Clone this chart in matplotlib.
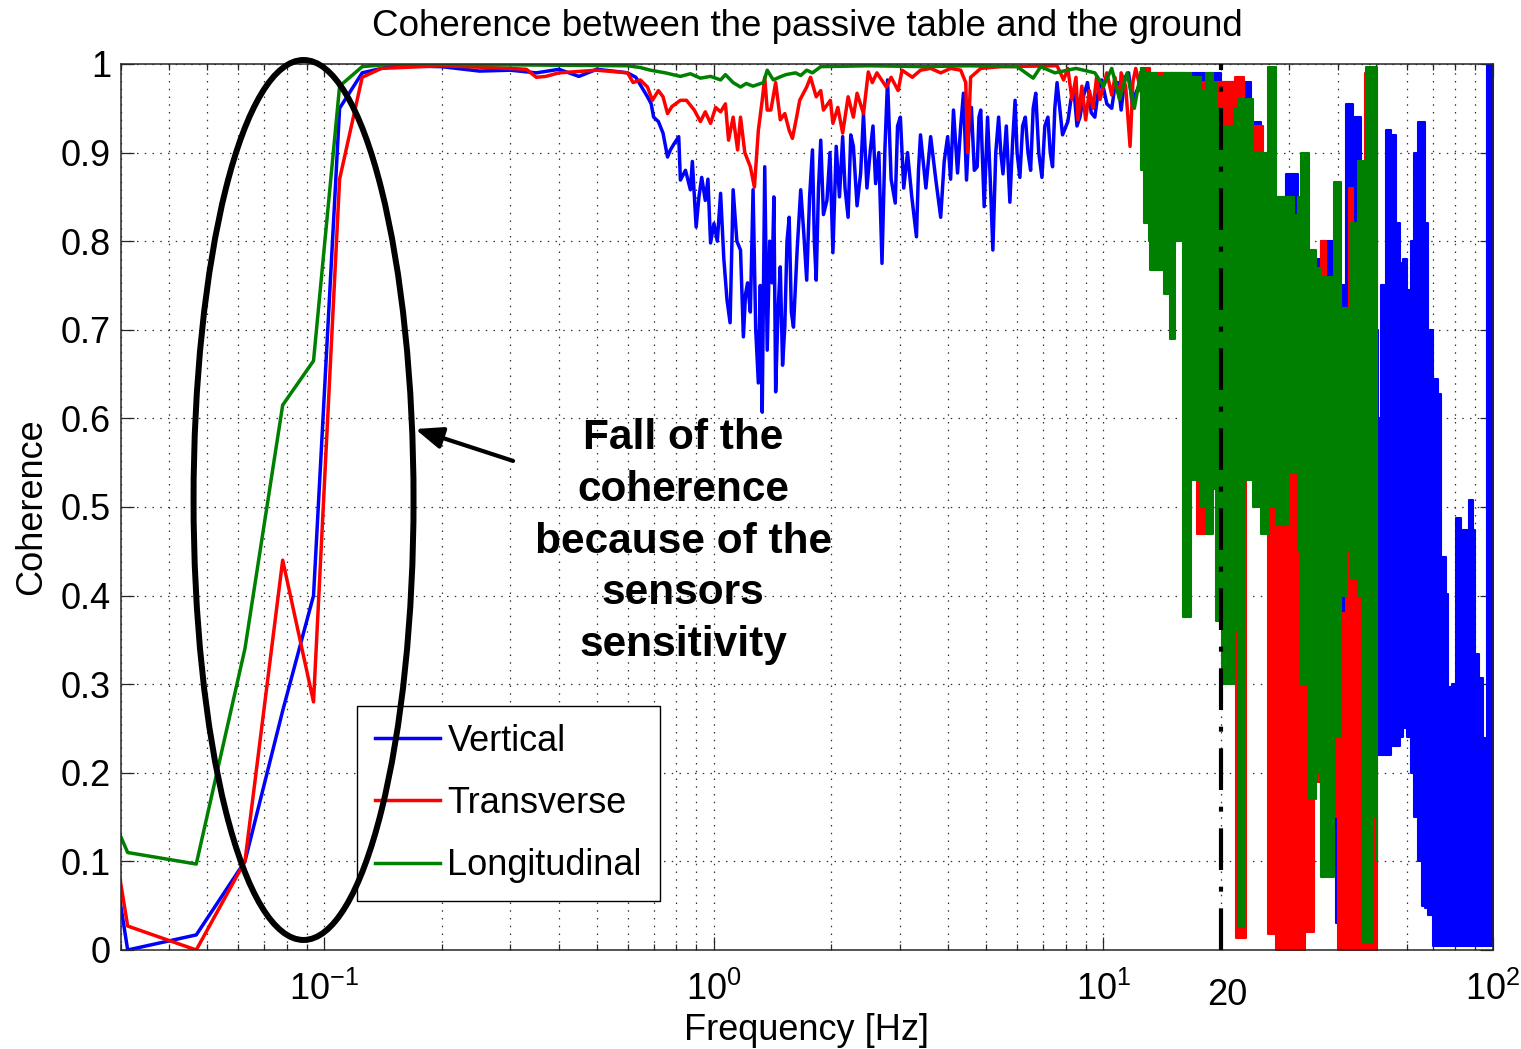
import numpy as np
import matplotlib
matplotlib.use("Agg")
import matplotlib.pyplot as plt
from matplotlib.patches import Ellipse
from matplotlib.ticker import LogLocator, NullFormatter, FixedLocator

plt.rcParams['font.family'] = ['Liberation Sans', 'DejaVu Sans']
plt.rcParams['mathtext.fontset'] = 'custom'
plt.rcParams['mathtext.rm'] = 'Liberation Sans'
plt.rcParams['mathtext.it'] = 'Liberation Sans:italic'
plt.rcParams['mathtext.bf'] = 'Liberation Sans:bold'

# ---------------------------------------------------------------- data
series_names = ['Vertical', 'Transverse', 'Longitudinal']

# Vertical: resolved part of the spectrum [Hz] and coherence
vert_freq = [0.015625, 0.03125, 0.046875, 0.0625, 0.078125, 0.09375, 0.109375, 0.125, 0.15, 0.2,
             0.25, 0.3, 0.35, 0.4, 0.45, 0.5, 0.55, 0.6, 0.63, 0.675,
             0.69, 0.70, 0.72, 0.74, 0.76, 0.773, 0.79, 0.812, 0.82, 0.845,
             0.87, 0.88, 0.90, 0.915, 0.93, 0.95, 0.965, 0.98, 1.0, 1.02,
             1.04, 1.06, 1.08, 1.10, 1.12, 1.145, 1.17, 1.19, 1.205, 1.22,
             1.24, 1.26, 1.28, 1.30, 1.315, 1.33, 1.35, 1.37, 1.39, 1.41,
             1.425, 1.44, 1.46, 1.48, 1.50, 1.52, 1.54, 1.56, 1.58, 1.60,
             1.635, 1.67, 1.70, 1.73, 1.76, 1.79, 1.81, 1.83, 1.855, 1.88,
             1.91, 1.95, 1.985, 2.02, 2.06, 2.10, 2.14, 2.17, 2.21, 2.245,
             2.28, 2.33, 2.38, 2.42, 2.47, 2.52, 2.56, 2.60, 2.65, 2.70,
             2.745, 2.79, 2.85, 2.92, 2.96, 3.01, 3.07, 3.14, 3.22, 3.31,
             3.35, 3.39, 3.50, 3.60, 3.71, 3.82, 3.90, 3.98, 4.05, 4.12,
             4.22, 4.30, 4.37, 4.45, 4.52, 4.58, 4.66, 4.74, 4.79, 4.84,
             4.94, 5.04, 5.12, 5.20, 5.29, 5.38, 5.45, 5.52, 5.63, 5.75,
             5.84, 5.93, 6.0, 6.1, 6.2, 6.3, 6.4, 6.5, 6.6, 6.7,
             6.82, 6.95, 7.07, 7.2, 7.3, 7.4, 7.5, 7.6, 7.85, 8.1,
             8.25, 8.4, 8.55, 8.7, 8.9, 9.1, 9.3, 9.5, 9.7, 9.9,
             10.2, 10.5, 10.7, 10.9, 11.1, 11.35, 11.6, 11.85, 12.1, 12.6]
vert_coh = [0.85, 0.0, 0.017, 0.10, 0.27, 0.40, 0.95, 0.99, 0.998, 0.997,
            0.992, 0.993, 0.99, 0.994, 0.986, 0.994, 0.992, 0.99, 0.985, 0.963,
            0.955, 0.94, 0.935, 0.922, 0.895, 0.903, 0.91, 0.918, 0.869, 0.88,
            0.858, 0.89, 0.816, 0.85, 0.872, 0.846, 0.87, 0.798, 0.82, 0.80,
            0.854, 0.78, 0.734, 0.708, 0.858, 0.80, 0.79, 0.692, 0.74, 0.753,
            0.72, 0.858, 0.70, 0.64, 0.75, 0.607, 0.884, 0.677, 0.80, 0.753,
            0.85, 0.63, 0.72, 0.771, 0.66, 0.703, 0.80, 0.827, 0.72, 0.703,
            0.79, 0.858, 0.81, 0.756, 0.85, 0.903, 0.80, 0.756, 0.86, 0.914,
            0.83, 0.846, 0.90, 0.787, 0.907, 0.85, 0.918, 0.86, 0.827, 0.92,
            0.907, 0.84, 0.877, 0.944, 0.86, 0.903, 0.93, 0.865, 0.90, 0.775,
            0.90, 0.982, 0.87, 0.843, 0.93, 0.94, 0.86, 0.90, 0.85, 0.805,
            0.88, 0.92, 0.86, 0.918, 0.87, 0.827, 0.89, 0.918, 0.87, 0.948,
            0.877, 0.93, 0.967, 0.869, 0.93, 0.951, 0.88, 0.884, 0.94, 0.948,
            0.839, 0.94, 0.87, 0.79, 0.90, 0.94, 0.90, 0.876, 0.93, 0.844,
            0.91, 0.959, 0.90, 0.872, 0.93, 0.94, 0.90, 0.88, 0.95, 0.967,
            0.90, 0.872, 0.93, 0.94, 0.90, 0.884, 0.95, 0.979, 0.92, 0.935,
            0.96, 0.97, 0.93, 0.94, 0.965, 0.979, 0.945, 0.94, 0.97, 0.982,
            0.955, 0.95, 0.975, 0.979, 0.948, 0.985, 0.99, 0.955, 0.967, 0.985]
# Vertical: dense high-frequency part, min / max envelope
vert_band_freq = [12.6, 14.0, 15.8, 17.8, 20.0, 21.9, 23.9, 25.3, 26.4, 29.4,
                  31.6, 33.2, 36.1, 39.5, 41.9, 43.7, 45.8, 48.5, 50.6, 51.5,
                  53.1, 54.6, 56.3, 57.6, 58.7, 60.0, 61.5, 62.6, 64.1, 65.6,
                  66.8, 67.9, 70.0, 72.1, 73.4, 75.7, 76.6, 78.3, 80.3, 82.7,
                  85.1, 86.6, 88.6, 89.7, 92.1, 94.2, 96.0, 96.7, 100.0]
vert_band_lo = [0.93, 0.92, 0.90, 0.88, 0.85, 0.80, 0.70, 0.65, 0.60, 0.55,
                0.45, 0.27, 0.17, 0.03, 0.05, 0.30, 0.30, 0.25, 0.22, 0.22,
                0.22, 0.23, 0.23, 0.24, 0.25, 0.24, 0.20, 0.15, 0.10, 0.05,
                0.047, 0.04, 0.005, 0.005, 0.005, 0.005, 0.005, 0.005, 0.005, 0.005,
                0.005, 0.005, 0.005, 0.005, 0.005, 0.005, 0.005, 0.005, 0.005]
vert_band_hi = [0.99, 0.99, 0.99, 0.99, 0.98, 0.98, 0.935, 0.876, 0.85, 0.876,
                0.85, 0.78, 0.80, 0.75, 0.955, 0.94, 0.80, 0.70, 0.60, 0.75,
                0.925, 0.92, 0.82, 0.775, 0.78, 0.745, 0.80, 0.90, 0.935, 0.935,
                0.82, 0.70, 0.645, 0.627, 0.443, 0.402, 0.297, 0.30, 0.488, 0.474,
                0.474, 0.508, 0.474, 0.334, 0.307, 0.239, 0.239, 1.0, 1.0]

# Transverse
trans_freq = [0.015625, 0.03125, 0.046875, 0.0625, 0.078125, 0.09375, 0.109375, 0.125, 0.14, 0.2,
              0.3, 0.33, 0.35, 0.37, 0.4, 0.5, 0.6, 0.62, 0.647, 0.675,
              0.695, 0.72, 0.74, 0.76, 0.78, 0.82, 0.85, 0.89, 0.923, 0.95,
              0.98, 1.01, 1.04, 1.07, 1.09, 1.12, 1.15, 1.17, 1.20, 1.24,
              1.27, 1.30, 1.33, 1.35, 1.37, 1.40, 1.44, 1.48, 1.52, 1.56,
              1.59, 1.63, 1.66, 1.73, 1.77, 1.83, 1.88, 1.91, 1.99, 2.02,
              2.08, 2.14, 2.21, 2.28, 2.33, 2.42, 2.49, 2.55, 2.62, 2.77,
              2.85, 2.97, 3.04, 3.23, 3.39, 3.6, 3.82, 4.05, 4.3, 4.43,
              4.48, 4.56, 4.84, 5.45, 7.6, 7.9, 8.1, 8.3, 8.5, 8.6,
              8.8, 9.0, 9.2, 9.4, 9.6, 9.8, 10.2, 10.5, 10.7, 11.0,
              11.1, 11.4, 11.7, 11.9, 12.1, 12.46]
trans_coh = [0.84, 0.027, 0.0, 0.10, 0.44, 0.28, 0.87, 0.985, 0.995, 0.998,
             0.995, 0.994, 0.985, 0.986, 0.99, 0.993, 0.99, 0.979, 0.982, 0.974,
             0.959, 0.97, 0.963, 0.944, 0.952, 0.959, 0.959, 0.948, 0.935, 0.946,
             0.933, 0.951, 0.946, 0.955, 0.914, 0.94, 0.903, 0.94, 0.90, 0.884,
             0.861, 0.925, 0.959, 0.985, 0.948, 0.948, 0.979, 0.937, 0.944, 0.925,
             0.916, 0.94, 0.959, 0.974, 0.985, 0.963, 0.97, 0.948, 0.959, 0.933,
             0.951, 0.922, 0.963, 0.94, 0.967, 0.944, 0.991, 0.979, 0.99, 0.974,
             0.985, 0.97, 0.993, 0.985, 0.993, 0.995, 0.99, 0.995, 0.993, 0.979,
             0.90, 0.985, 0.995, 0.997, 0.998, 0.982, 0.995, 0.96, 0.985, 0.937,
             0.975, 0.937, 0.97, 0.95, 0.985, 0.96, 0.99, 0.965, 0.985, 0.96,
             0.99, 0.975, 0.907, 0.98, 0.995, 0.97]
trans_band_freq = [12.46, 13.2, 14.0, 14.9, 15.3, 16.3, 17.25, 17.4, 18.5, 18.85,
                   20.0, 20.8, 21.7, 21.9, 23.0, 23.2, 24.6, 25.6, 26.4, 27.7,
                   29.8, 31.2, 33.0, 34.7, 36.1, 37.2, 39.0, 40.0, 41.9, 42.6,
                   43.7, 45.3, 46.8, 48.5, 50.3]
trans_band_lo = [0.94, 0.92, 0.90, 0.88, 0.86, 0.84, 0.84, 0.47, 0.47, 0.75,
                 0.77, 0.75, 0.60, 0.013, 0.013, 0.60, 0.55, 0.60, 0.018, 0.0,
                 0.0, 0.0, 0.02, 0.19, 0.17, 0.15, 0.15, 0.0, 0.0, 0.0,
                 0.0, 0.0, 0.0, 0.0, 0.0]
trans_band_hi = [0.995, 0.99, 0.99, 0.99, 0.99, 0.985, 0.985, 0.98, 0.98, 0.98,
                 0.98, 0.98, 0.985, 0.985, 0.90, 0.93, 0.93, 0.87, 0.65, 0.60,
                 0.55, 0.55, 0.60, 0.55, 0.80, 0.70, 0.45, 0.38, 0.50, 0.86,
                 0.60, 0.45, 0.99, 0.99, 0.95]

# Longitudinal
long_freq = [0.015625, 0.03125, 0.046875, 0.0625, 0.078125, 0.09375, 0.109375, 0.125, 0.15, 0.6,
             0.647, 0.687, 0.75, 0.82, 0.87, 0.923, 0.98, 1.04, 1.07, 1.12,
             1.17, 1.21, 1.26, 1.34, 1.37, 1.42, 1.47, 1.53, 1.62, 1.67,
             1.73, 1.79, 1.88, 2.5, 3.5, 4.5, 6.0, 6.6, 6.9, 7.5,
             8.5, 9.5, 10.0, 10.5, 11.0, 11.5, 12.0, 12.46]
long_coh = [0.415, 0.11, 0.097, 0.34, 0.615, 0.665, 0.975, 0.997, 1.0, 0.998,
            0.996, 0.993, 0.99, 0.986, 0.989, 0.984, 0.986, 0.982, 0.988, 0.979,
            0.974, 0.978, 0.975, 0.979, 0.993, 0.982, 0.985, 0.988, 0.99, 0.987,
            0.993, 0.99, 0.997, 0.998, 0.997, 0.998, 0.997, 0.984, 0.997, 0.99,
            0.995, 0.99, 0.975, 0.995, 0.96, 0.99, 0.95, 0.99]
long_band_freq = [12.46, 12.7, 13.1, 13.2, 13.7, 14.3, 14.8, 15.0, 15.3, 15.9,
                  16.0, 16.75, 16.8, 17.8, 18.3, 19.1, 19.4, 20.1, 20.2, 21.2,
                  21.7, 22.2, 23.0, 23.1, 24.2, 25.3, 26.4, 27.5, 27.7, 29.8,
                  30.8, 31.6, 32.1, 33.2, 33.6, 35.1, 36.1, 38.3, 39.0, 40.0,
                  40.7, 41.9, 43.1, 45.0, 46.5, 47.1, 49.1, 50.3]
long_band_lo = [0.88, 0.82, 0.80, 0.767, 0.767, 0.74, 0.69, 0.69, 0.80, 0.80,
                0.376, 0.376, 0.53, 0.50, 0.47, 0.52, 0.371, 0.371, 0.30, 0.30,
                0.36, 0.026, 0.026, 0.53, 0.50, 0.47, 0.50, 0.50, 0.48, 0.54,
                0.54, 0.45, 0.30, 0.45, 0.17, 0.20, 0.082, 0.082, 0.24, 0.24,
                0.40, 0.45, 0.42, 0.40, 0.009, 0.009, 0.15, 0.10]
long_band_hi = [0.995, 0.99, 0.99, 0.99, 0.985, 0.99, 0.99, 0.99, 0.99, 0.99,
                0.99, 0.985, 0.985, 0.97, 0.99, 0.98, 0.95, 0.93, 0.93, 0.93,
                0.95, 0.96, 0.96, 0.96, 0.90, 0.90, 0.997, 0.997, 0.85, 0.85,
                0.83, 0.85, 0.90, 0.90, 0.79, 0.77, 0.76, 0.76, 0.867, 0.867,
                0.725, 0.725, 0.82, 0.89, 0.89, 0.997, 0.997, 0.99]

y_ticks = [0.0, 0.1, 0.2, 0.3, 0.4, 0.5, 0.6, 0.7, 0.8, 0.9, 1.0]
y_ticklabels = ['0', '0.1', '0.2', '0.3', '0.4', '0.5', '0.6', '0.7', '0.8', '0.9', '1']
x_major_ticks = [0.1, 1, 10, 100]
cutoff_freq = 20
note_lines = ['Fall of the', 'coherence', 'because of the', 'sensors', 'sensitivity']

# ---------------------------------------------------------------- figure
fig = plt.figure(figsize=(15.21, 10.49), dpi=100)
ax = fig.add_axes([0.0794, 0.0944, 0.9022, 0.8446])

colors = [(0, 0, 1), (1, 0, 0), (0, 0.5, 0)]
lines_data = [(vert_freq, vert_coh, vert_band_freq, vert_band_lo, vert_band_hi),
              (trans_freq, trans_coh, trans_band_freq, trans_band_lo, trans_band_hi),
              (long_freq, long_coh, long_band_freq, long_band_lo, long_band_hi)]

LW = 2.5
handles = []
for k, (name, col, (f, c, bf, blo, bhi)) in enumerate(zip(series_names, colors, lines_data)):
    z = 2 + 0.1 * k
    h, = ax.plot(f, c, color=col, lw=LW, label=name, zorder=z)
    ax.fill_between(bf, blo, bhi, step='post', facecolor=col, edgecolor=col,
                    lw=1.5, zorder=z)
    handles.append(h)

# cut-off frequency marker
ax.axvline(cutoff_freq, color='k', lw=3.0, dashes=(10, 4, 1.2, 4), zorder=4)
ax.annotate(str(cutoff_freq), xy=(cutoff_freq, 0), xycoords=('data', 'axes fraction'),
            xytext=(5, -20), textcoords='offset points', ha='center', va='top',
            fontsize=26)

ax.set_xscale('log')
ax.set_xlim(0.03, 100)
ax.set_ylim(0, 1)
ax.xaxis.set_major_locator(FixedLocator(x_major_ticks))
ax.xaxis.set_minor_locator(LogLocator(base=10, subs=(2, 3, 4, 5, 6, 7, 8, 9), numticks=20))
ax.xaxis.set_minor_formatter(NullFormatter())
ax.set_yticks(y_ticks)
ax.set_yticklabels(y_ticklabels)

grid_kw = dict(color='0.2', lw=0.9, linestyle=(0, (1.2, 5)))
ax.grid(True, which='major', axis='both', **grid_kw)
ax.grid(True, which='minor', axis='x', **grid_kw)
ax.set_axisbelow(True)

ax.tick_params(which='both', direction='in', top=True, right=True, labelsize=26,
               width=0.9, color='0.15')
ax.tick_params(which='major', length=9.5)
ax.tick_params(which='minor', length=4.5)
ax.tick_params(axis='y', pad=7)
ax.tick_params(axis='x', pad=16)
for sp in ax.spines.values():
    sp.set_linewidth(1.1)
    sp.set_color('0.15')

ax.set_title('Coherence between the passive table and the ground', fontsize=26.5, pad=20)
ax.set_xlabel('Frequency [Hz]', fontsize=26)
ax.xaxis.set_label_coords(0.5, -0.071)
ax.set_ylabel('Coherence', fontsize=26)
ax.yaxis.set_label_coords(-0.052, 0.5)

leg = ax.legend(handles=handles, loc='upper left', bbox_to_anchor=(0.1722, 0.2754),
                borderaxespad=0, fontsize=26, handlelength=1.8, handleheight=0.7,
                handletextpad=0.2, borderpad=0.5, labelspacing=0.75, fancybox=False,
                framealpha=1, edgecolor='k')
leg.get_frame().set_linewidth(1.0)
for lh in leg.get_lines():
    lh.set_linewidth(LW)

# annotation: ellipse around the low-frequency drop, arrow and note
ax.add_patch(Ellipse((0.1332, 0.5079), 0.1603, 0.9932, transform=ax.transAxes,
                     fill=False, lw=4.3, ec='k', clip_on=False, zorder=6))
ax.annotate('', xy=(0.171, 0.588), xytext=(0.305, 0.552),
            arrowprops=dict(arrowstyle='-|>,head_length=0.55,head_width=0.22', lw=3,
                            color='k', shrinkA=0, shrinkB=0, mutation_scale=30),
            zorder=6)
for i, txt in enumerate(note_lines):
    ax.text(0.4098, 0.5655 - 0.0585 * i, txt, transform=ax.transAxes, ha='center',
            va='baseline', fontsize=30.5, fontweight='bold', zorder=6)

fig.savefig('out.png', dpi=100)
